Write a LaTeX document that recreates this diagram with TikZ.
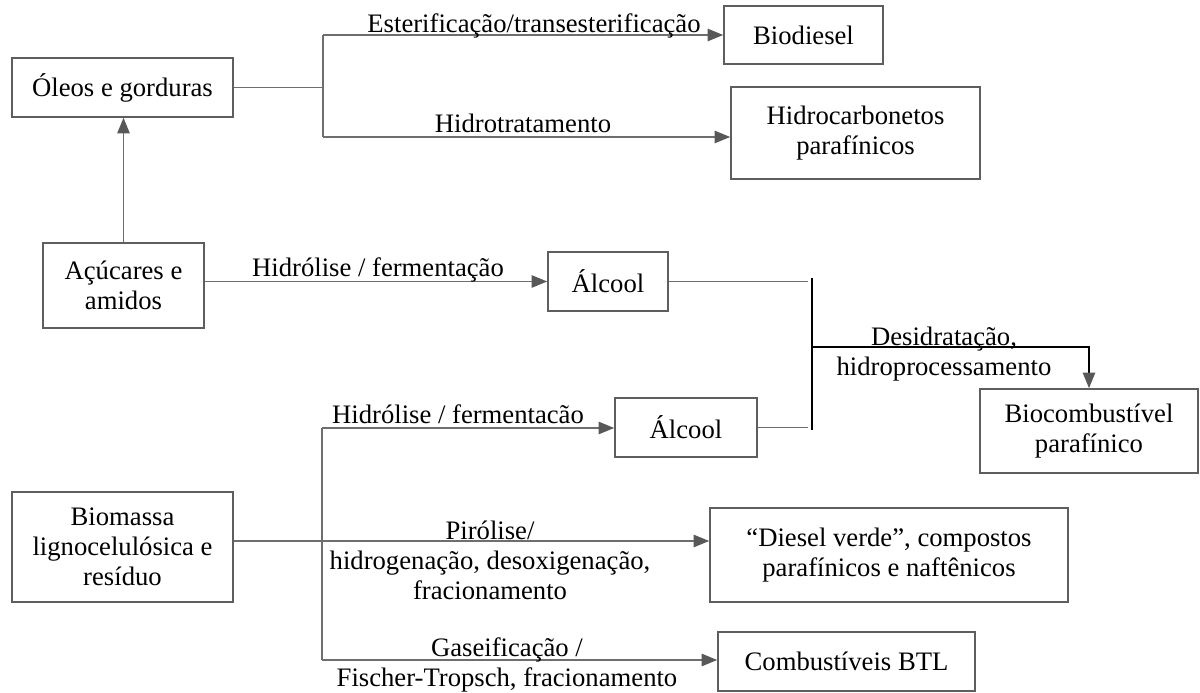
\documentclass[tikz,border=0pt]{standalone}
\usepackage{fontspec}
\setmainfont{Liberation Serif}
\usetikzlibrary{arrows.meta}
\newcommand\pxu{0.45pt}
\newcommand\stk[1]{\begin{tabular}[t]{@{}c@{}}#1\end{tabular}}
\definecolor{linegray}{HTML}{6E6E6E}
\definecolor{boxgray}{HTML}{5E5E5E}
\definecolor{tipgray}{HTML}{585858}
\begin{document}
\begin{tikzpicture}[x=\pxu,y=-\pxu,
  every node/.style={font=\fontsize{12}{13.5}\selectfont, text=black},
  box/.style={draw=boxgray, line width=0.75pt, align=center, inner sep=0pt},
  conn/.style={draw=linegray, line width=0.6pt},
  darkconn/.style={draw=black, line width=0.6pt},
  arr/.style={-{Triangle[length=7pt,width=5.6pt,fill=tipgray,color=tipgray]}},
  lbl/.style={anchor=base, inner sep=0pt}]
\useasboundingbox (0,0) rectangle (1200,693);

% boxes
\node[box, minimum width=221*\pxu, minimum height=59*\pxu] (oleos) at (122.5,87.5) {Óleos e gorduras};
\node[box, minimum width=159*\pxu, minimum height=58*\pxu] (biodiesel) at (803.5,35) {Biodiesel};
\node[box, minimum width=249*\pxu, minimum height=92*\pxu] (hidro) at (855.5,133) {Hidrocarbonetos\\parafínicos};
\node[box, minimum width=161*\pxu, minimum height=85*\pxu] (acucares) at (123.5,285.5) {Açúcares e\\amidos};
\node[box, minimum width=120*\pxu, minimum height=59*\pxu] (alcoolA) at (608,281.5) {Álcool};
\node[box, minimum width=142*\pxu, minimum height=59*\pxu] (alcoolB) at (686,427.5) {Álcool};
\node[box, minimum width=218*\pxu, minimum height=84*\pxu] (biocomb) at (1089,431) {Biocombustível\\parafínico};
\node[box, minimum width=221*\pxu, minimum height=110*\pxu] (biomassa) at (122.5,547) {Biomassa\\lignocelulósica e\\resíduo};
\node[box, minimum width=358*\pxu, minimum height=94*\pxu] (diesel) at (889,555) {“Diesel verde”, compostos\\parafínicos e naftênicos};
\node[box, minimum width=257*\pxu, minimum height=59*\pxu] (btl) at (846.5,661.5) {Combustíveis BTL};

% junction coordinates
\coordinate (jt) at (323,35);
\coordinate (jb) at (323,137);
\coordinate (vtop) at (812,278);
\coordinate (vbot) at (812,430);
\coordinate (vend) at (808,0);
\coordinate (jd) at (812,347);
\coordinate (bj) at (322,541);
\coordinate (bjtop) at (322,428);
\coordinate (bjbot) at (322,660);

% connectors
\draw[conn] (oleos.east) -- (oleos.east -| jt);
\draw[conn] (jt) -- (jb);
\draw[conn,arr] (jt) -- (jt -| biodiesel.west);
\draw[conn,arr] (jb) -- (jb -| hidro.west);
\draw[conn,arr] (acucares.north) -- (acucares.north |- oleos.south);
\draw[conn,arr] (acucares.east |- alcoolA) -- (alcoolA.west);
\draw[conn] (alcoolA.east) -- (alcoolA.east -| vend);
\draw[conn] (alcoolB.east) -- (alcoolB.east -| vend);
\draw[darkconn] (vtop) -- (vbot);
\draw[darkconn,arr] (jd) -| (biocomb.north);
\draw[conn,arr] (biomassa.east |- bj) -- (bj -| diesel.west);
\draw[conn] (bjtop) -- (bjbot);
\draw[conn,arr] (bjtop) -- (bjtop -| alcoolB.west);
\draw[conn,arr] (bjbot) -- (bjbot -| btl.west);

% labels
\node[lbl] (l1) at (534,32.5) {Esterificação/transesterificação};
\node[lbl] (l2) at (523,133) {Hidrotratamento};
\node[lbl] (l3) at (378,277) {Hidrólise / fermentação};
\node[lbl] (l4) at (458,423.5) {Hidrólise / fermentacão};
\node[lbl] (l5) at (944,346) {\stk{Desidratação,\\hidroprocessamento}};
\node[lbl] (l6) at (490,539.5) {\stk{Pirólise/\\hidrogenação, desoxigenação,\\fracionamento}};
\node[lbl] (l7) at (507,656) {\stk{Gaseificação /\\Fischer-Tropsch, fracionamento}};
\end{tikzpicture}
\end{document}
